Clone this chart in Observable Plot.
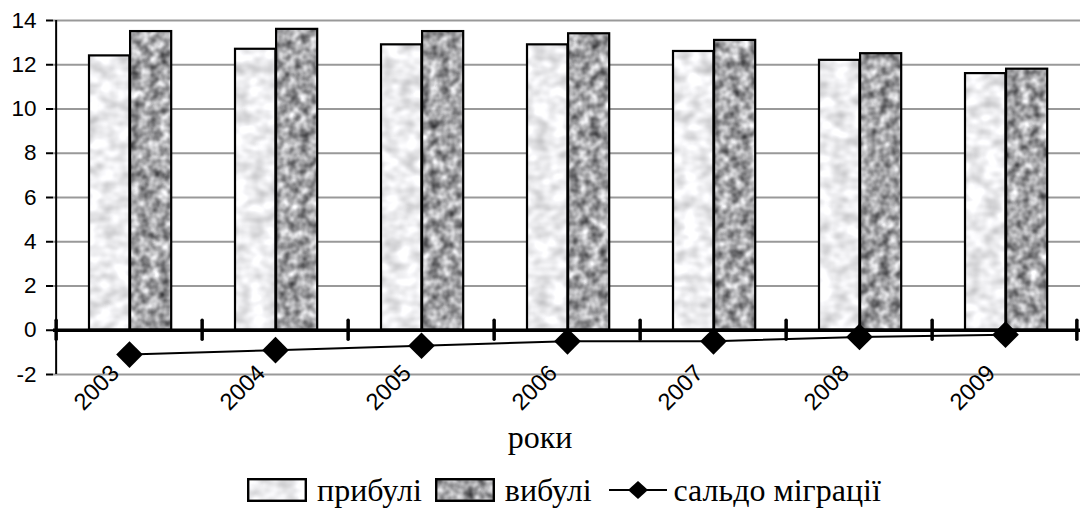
<!DOCTYPE html>
<html><head><meta charset="utf-8">
<script src="https://cdn.jsdelivr.net/npm/d3@7"></script>
<script src="https://cdn.jsdelivr.net/npm/@observablehq/plot@0.6"></script>
<style>
body{margin:0;background:#fff;}
#wrap{position:relative;width:1080px;height:514px;overflow:hidden;background:#fff;}
#defs{position:absolute;left:0;top:0;width:0;height:0;}
#xlabel{position:absolute;left:0;width:1080px;top:421px;text-align:center;font-family:"Liberation Serif";font-size:32px;line-height:32px;}
#legend{position:absolute;left:247px;top:474px;display:flex;align-items:center;font-family:"Liberation Serif";font-size:32px;line-height:32px;white-space:nowrap;}
#legend svg{display:block;}
</style>
</head><body>
<div id="wrap">
<svg id="defs" width="0" height="0">
  <defs>
    <filter id="texLight" x="0" y="0" width="100%" height="100%" color-interpolation-filters="sRGB">
      <feTurbulence type="fractalNoise" baseFrequency="0.06 0.08" numOctaves="2" seed="4"/>
      <feColorMatrix type="matrix" values="0.42 0 0 0 0.72  0.42 0 0 0 0.72  0.42 0 0 0 0.73  0 0 0 0 1"/>
    </filter>
    <filter id="texDark" x="0" y="0" width="100%" height="100%" color-interpolation-filters="sRGB">
      <feTurbulence type="fractalNoise" baseFrequency="0.1" numOctaves="2" seed="9"/>
      <feColorMatrix type="matrix" values="1.05 0 0 0 0.12  1.05 0 0 0 0.12  1.05 0 0 0 0.13  0 0 0 0 1"/>
    </filter>
    <pattern id="pLight" patternUnits="userSpaceOnUse" x="0" y="0" width="1080" height="514">
      <rect width="1080" height="514" filter="url(#texLight)"/>
    </pattern>
    <pattern id="pDark" patternUnits="userSpaceOnUse" x="0" y="0" width="1080" height="514">
      <rect width="1080" height="514" filter="url(#texDark)"/>
    </pattern>
  </defs>
</svg>
<div id="chart"></div>
<div id="xlabel">роки</div>
<div id="legend"></div>
</div>
<script>
// ---- data ----
const years = [2003, 2004, 2005, 2006, 2007, 2008, 2009];
const prybuli = [12.4, 12.7, 12.9, 12.9, 12.6, 12.2, 11.6];
const vybuli = [13.5, 13.6, 13.5, 13.4, 13.1, 12.5, 11.8];
const saldo = [-1.1, -0.9, -0.7, -0.5, -0.5, -0.3, -0.2];
const yTicks = [-2, 0, 2, 4, 6, 8, 10, 12, 14];
const seriesNames = ["прибулі", "вибулі", "сальдо міграції"];
const xTitle = "роки";

const data = years.map((y, i) => ({year: y, prybuli: prybuli[i], vybuli: vybuli[i], saldo: saldo[i]}));

const W = 1080, H = 420, ML = 53, MR = 0, MT = 20, MB = 46;
const bw = (W - ML - MR) / years.length;

const plot = Plot.plot({
  width: W, height: H,
  marginLeft: ML, marginRight: MR, marginTop: MT, marginBottom: MB,
  style: {background: "transparent", overflow: "visible"},
  x: {type: "band", domain: years, paddingInner: 0, paddingOuter: 0, axis: null},
  y: {domain: [-2, 14], axis: null},
  marks: [
    Plot.ruleY(yTicks.filter(d => d !== 0), {stroke: "#999", strokeWidth: 2}),
    Plot.barY(data, {x: "year", y: "prybuli", fill: "url(#pLight)", stroke: "black", strokeWidth: 2.2,
      insetLeft: bw * 0.225, insetRight: bw * 0.495}),
    Plot.barY(data, {x: "year", y: "vybuli", fill: "url(#pDark)", stroke: "black", strokeWidth: 2.2,
      insetLeft: bw * 0.505, insetRight: bw * 0.21}),
    Plot.ruleY([0], {stroke: "black", strokeWidth: 3.5}),
    // y-axis spine
    Plot.ruleX([years[0]], {x: d => d, y1: -2, y2: 14, dx: -bw / 2, stroke: "black", strokeWidth: 2}),
    // y ticks + labels
    Plot.axisY(yTicks, {tickSize: 7, tickPadding: 10, strokeWidth: 2, stroke: "black",
      fontSize: 22.5, fontFamily: "Liberation Sans", fill: "black", tickFormat: d => String(d)}),
    // category boundary tick marks on the zero line
    Plot.ruleX(years, {x: d => d, y1: -0.43, y2: 0.43, dx: -bw / 2, stroke: "black", strokeWidth: 3.5, strokeLinecap: "round"}),
    Plot.ruleX([years[years.length - 1]], {x: d => d, y1: -0.43, y2: 0.43, dx: bw / 2 - 2, stroke: "black", strokeWidth: 3.5, strokeLinecap: "round"}),
    // year labels
    Plot.text(years, {x: d => d, frameAnchor: "bottom", text: d => String(d), rotate: -45,
      textAnchor: "end", lineAnchor: "bottom", dx: -9, dy: 0, fontSize: 23.5, fontFamily: "Liberation Sans", fill: "black"}),
    Plot.line(data, {x: "year", y: "saldo", stroke: "black", strokeWidth: 2}),
    Plot.dot(data, {x: "year", y: "saldo", symbol: "diamond2", r: 12, fill: "black", stroke: "none"})
  ]
});
document.getElementById("chart").appendChild(plot);
document.getElementById("xlabel").textContent = xTitle;

// legend
const legend = document.getElementById("legend");
const NS = "http://www.w3.org/2000/svg";
function swatch(fill) {
  const s = document.createElementNS(NS, "svg");
  s.setAttribute("width", 60); s.setAttribute("height", 24);
  const r = document.createElementNS(NS, "rect");
  r.setAttribute("x", 1.2); r.setAttribute("y", 1.2); r.setAttribute("width", 57.6); r.setAttribute("height", 21.6);
  r.setAttribute("fill", fill); r.setAttribute("stroke", "black"); r.setAttribute("stroke-width", 2.4);
  s.appendChild(r); return s;
}
function lineSym() {
  const s = document.createElementNS(NS, "svg");
  s.setAttribute("width", 58); s.setAttribute("height", 24);
  const l = document.createElementNS(NS, "line");
  l.setAttribute("x1", 0); l.setAttribute("x2", 58); l.setAttribute("y1", 12); l.setAttribute("y2", 12);
  l.setAttribute("stroke", "black"); l.setAttribute("stroke-width", 2.2);
  const p = document.createElementNS(NS, "path");
  p.setAttribute("d", "M29,3 L39,12 L29,21 L19,12 Z"); p.setAttribute("fill", "black");
  s.appendChild(l); s.appendChild(p); return s;
}
function label(t, ml, mr) {
  const sp = document.createElement("span"); sp.textContent = t;
  sp.style.marginLeft = ml + "px"; sp.style.marginRight = mr + "px"; return sp;
}
legend.appendChild(swatch("url(#pLight)"));
legend.appendChild(label(seriesNames[0], 10, 13));
legend.appendChild(swatch("url(#pDark)"));
legend.appendChild(label(seriesNames[1], 10, 17));
legend.appendChild(lineSym());
legend.appendChild(label(seriesNames[2], 7, 0));
</script>
</body></html>
